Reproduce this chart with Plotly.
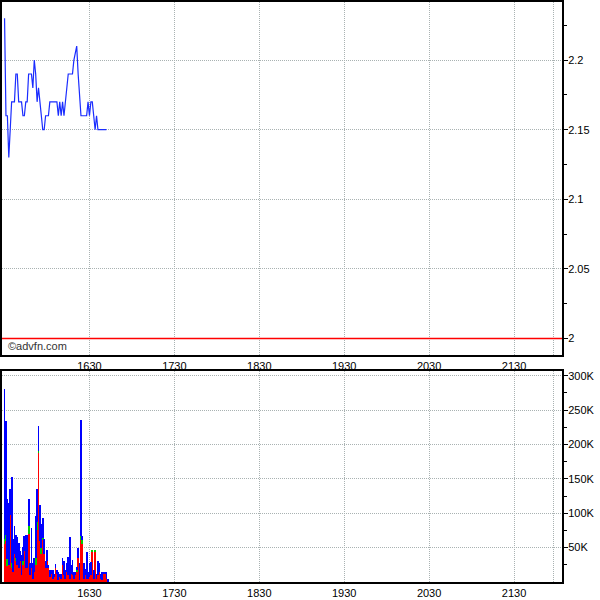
import plotly.graph_objects as go

# ---- data ----
open_minute = 930  # 15:30 expressed in minutes after midnight
price = [2.23, 2.16, 2.16, 2.13, 2.15, 2.17, 2.17, 2.17, 2.19, 2.19,
         2.17, 2.17, 2.17, 2.16, 2.16, 2.17, 2.17, 2.19, 2.19, 2.19,
         2.18, 2.20, 2.19, 2.17, 2.18, 2.17, 2.16, 2.15, 2.15, 2.16,
         2.16, 2.16, 2.17, 2.17, 2.17, 2.17, 2.17, 2.17, 2.16, 2.17,
         2.16, 2.17, 2.16, 2.17, 2.18, 2.19, 2.19, 2.19, 2.19, 2.20,
         2.205, 2.21, 2.19, 2.17, 2.16, 2.16, 2.16, 2.16, 2.16, 2.17,
         2.16, 2.17, 2.17, 2.16, 2.15, 2.16, 2.15, 2.15, 2.15, 2.15,
         2.15, 2.15, 2.15]
prev_close = 2.0

vol_total = [281, 234, 120, 115, 135, 153, 63, 81, 68, 66,
             57, 45, 39, 51, 67, 69, 69, 120, 27, 79,
             27, 35, 96, 135, 227, 112, 84, 93, 62, 31,
             46, 25, 18, 17, 18, 12, 26, 17, 15, 11,
             12, 35, 30, 17, 27, 36, 66, 25, 32, 15,
             15, 22, 50, 27, 236, 67, 27, 19, 44, 15,
             27, 29, 46, 17, 47, 11, 31, 27, 11, 15,
             15, 15, 15, 5]
vol_red = [55, 60, 24, 25, 97, 20, 15, 40, 30, 25,
           20, 30, 10, 25, 45, 20, 20, 70, 10, 20,
           5, 15, 25, 75, 188, 60, 40, 61, 40, 20,
           30, 20, 8, 12, 5, 8, 20, 12, 3, 8,
           5, 25, 10, 5, 15, 10, 5, 12, 10, 5,
           10, 15, 35, 3, 61, 55, 5, 10, 5, 5,
           8, 10, 44, 5, 45, 5, 10, 15, 5, 3,
           13, 13, 5, 0]
vol_green = [8, 8, 10, 0, 0, 8, 0, 0, 5, 0,
             0, 0, 0, 5, 0, 0, 0, 12, 0, 0,
             0, 0, 10, 12, 3, 0, 10, 3, 0, 0,
             0, 0, 0, 0, 0, 0, 0, 0, 0, 0,
             0, 0, 0, 0, 0, 0, 0, 0, 0, 0,
             0, 3, 0, 0, 6, 6, 0, 0, 0, 0,
             0, 0, 2, 0, 2, 0, 0, 0, 0, 0,
             0, 0, 0, 0]

x_ticks = [990, 1050, 1110, 1170, 1230, 1290, 1318]
x_labels = ["1630", "1730", "1830", "1930", "2030", "2130", ""]
price_ticks = [2.0, 2.05, 2.1, 2.15, 2.2]
price_labels = ["2", "2.05", "2.1", "2.15", "2.2"]
price_minor = [2.025, 2.075, 2.125, 2.175, 2.225]
vol_ticks = [50000, 100000, 150000, 200000, 250000, 300000]
vol_labels = ["50K", "100K", "150K", "200K", "250K", "300K"]
vol_minor = [25000, 75000, 125000, 175000, 225000, 275000]

price_t = [open_minute + i for i in range(len(price))]
vol_t = [open_minute + i for i in range(len(vol_total))]
vk = [v * 1000 for v in vol_total]
rk = [v * 1000 for v in vol_red]
gk = [v * 1000 for v in vol_green]
bk = [t - r - g for t, r, g in zip(vk, rk, gk)]

FONT = "Liberation Sans, Arial, sans-serif"
GRID = "#a9b2b2"

fig = go.Figure()
fig.add_trace(go.Scatter(x=price_t, y=price, mode="lines",
                         line=dict(color="#1a2cff", width=1.2),
                         xaxis="x", yaxis="y", showlegend=False))
for ys, col in ((rk, "#ff0000"), (gk, "#00cc00"), (bk, "#0000ff")):
    fig.add_trace(go.Bar(x=vol_t, y=ys, marker=dict(color=col, line=dict(width=0)),
                         width=0.6, xaxis="x2", yaxis="y2", showlegend=False))

fig.add_shape(type="line", xref="x domain", yref="y", x0=0, x1=1,
              y0=prev_close, y1=prev_close, line=dict(color="#ff0000", width=1.5))

xcommon = dict(range=[928.2, 1323.9], tickvals=x_ticks, ticktext=x_labels,
               showgrid=True, gridcolor=GRID, griddash="1px,1px", gridwidth=1,
               showline=True, linecolor="black", linewidth=2, mirror=True,
               ticks="", zeroline=False, automargin=False,
               tickfont=dict(family=FONT, size=11, color="black"))
ycommon = dict(side="right", showgrid=True, gridcolor=GRID, griddash="1px,1px", gridwidth=1,
               showline=True, linecolor="black", linewidth=2, mirror=True,
               ticks="outside", ticklen=4, tickcolor="black", zeroline=False,
               automargin=False, ticklabelstandoff=-2,
               tickfont=dict(family=FONT, size=11, color="black"))

fig.update_layout(
    width=600, height=600,
    margin=dict(l=2, r=38, t=2, b=18),
    paper_bgcolor="white", plot_bgcolor="white",
    barmode="stack", bargap=0,
    xaxis=dict(domain=[0, 1], anchor="y", **xcommon),
    yaxis=dict(domain=[0.3914, 1], anchor="x", range=[1.9882, 2.2417],
               tickvals=price_ticks, ticktext=price_labels,
               minor=dict(tickvals=price_minor, ticks="outside", ticklen=3,
                          tickcolor="black", showgrid=False),
               **ycommon),
    xaxis2=dict(domain=[0, 1], anchor="y2", **xcommon),
    yaxis2=dict(domain=[0, 0.3638], anchor="x2", range=[0, 306800],
                tickvals=vol_ticks, ticktext=vol_labels,
                minor=dict(tickvals=vol_minor, ticks="outside", ticklen=3,
                           tickcolor="black", showgrid=False),
                **ycommon),
    annotations=[dict(text="©advfn.com", xref="paper", yref="paper",
                      x=0.008, y=0.3914, xanchor="left", yanchor="bottom",
                      yshift=1, showarrow=False,
                      font=dict(family=FONT, size=11, color="#333333"))],
)

fig.write_html("out.html", config={"displayModeBar": False},
               post_script="document.body.style.margin='0';document.body.style.padding='0';")
